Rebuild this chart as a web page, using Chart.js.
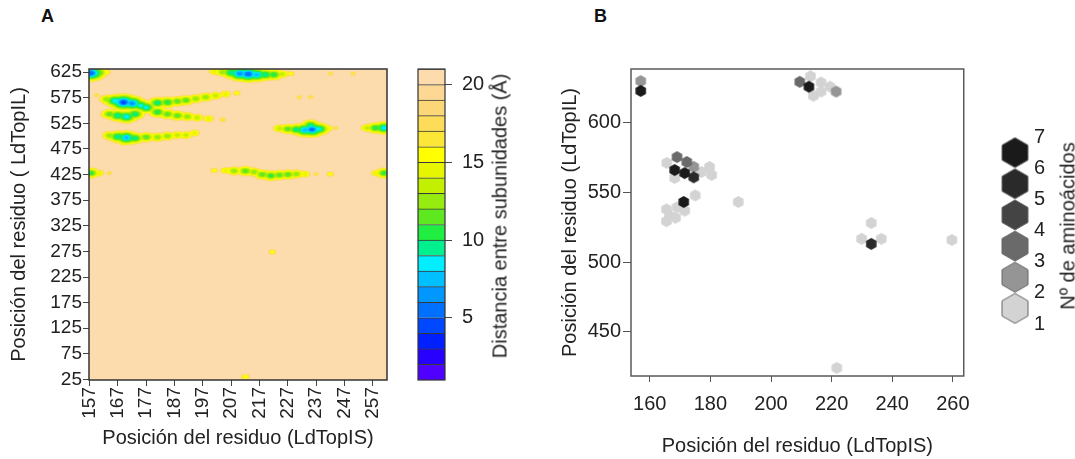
<!DOCTYPE html>
<html>
<head>
<meta charset="utf-8">
<script src="https://cdn.jsdelivr.net/npm/chart.js@4.4.0/dist/chart.umd.min.js"></script>
<style>
  body { margin: 0; background: #fff; width: 1075px; height: 459px; overflow: hidden; position: relative;
         font-family: "Liberation Sans", Arial, Helvetica, sans-serif; }
  .box { position: absolute; }
  .tag { position: absolute; font-weight: bold; font-size: 18px; color: #111; }
  .vt { position: absolute; font-size: 20px; color: #222; white-space: nowrap;
        transform: translate(-50%, -50%) rotate(-90deg); }
</style>
</head>
<body>
<div class="tag" style="left:41px;top:6px">A</div>
<div class="tag" style="left:594px;top:6px">B</div>

<div class="box" style="left:0;top:0;width:400px;height:459px"><canvas id="mapa"></canvas></div>
<div class="box" style="left:410px;top:0;width:80px;height:459px"><canvas id="barra"></canvas></div>
<div class="vt" style="left:500px;top:216px">Distancia entre subunidades (Å)</div>

<div class="box" style="left:540px;top:0;width:440px;height:459px"><canvas id="hexa"></canvas></div>
<div class="box" style="left:980px;top:100px;width:80px;height:240px"><canvas id="leyenda"></canvas></div>
<div class="vt" style="left:1068px;top:226px">Nº de aminoácidos</div>

<script>
// ---- Panel A: contactos (x, y, distancia mínima en Å) ----
const xTicksA = [157, 167, 177, 187, 197, 207, 217, 227, 237, 247, 257];
const yTicksA = [25, 75, 125, 175, 225, 275, 325, 375, 425, 475, 525, 575, 625];

const spotX = [157.5, 160.5, 163, 201, 204, 207, 210, 213, 216, 219, 222, 225, 228, 242, 250,
  159.5, 163, 166, 169, 172, 175, 164, 167, 170, 173, 177,
  181, 184.5, 188, 191, 194.5, 198, 201.5, 205, 209,
  181, 184.5, 188, 191.5, 195, 199, 204,
  164, 167, 170, 173, 169, 177, 181, 184.5, 188, 191, 194,
  231, 235, 224, 227, 230, 233, 235.5, 238, 235, 241, 244, 255, 258, 261,
  157.5, 160.5, 164, 201, 205, 208, 212, 215, 218, 221, 224, 227, 230, 233, 237, 242, 258, 261,
  212, 221.5];
const spotY = [623, 624, 625, 626, 625, 624, 622, 621, 620, 620, 620, 621, 622, 622, 622,
  580, 572, 569, 566, 564, 560, 543, 540, 538, 543, 556,
  565, 566, 568, 570, 573, 576, 579, 582, 584,
  547, 543, 540, 538, 536, 534, 532,
  501, 499, 497, 496, 488, 498, 498, 500, 502, 502, 506,
  576, 576, 515, 514, 513, 512, 513, 514, 521, 515, 516, 516, 516, 516,
  428, 428, 428, 433, 433, 432, 432, 430, 425, 423, 424, 425, 426, 426, 426, 426, 428, 428,
  30, 274];
const spotDist = [5, 11, 15, 14, 12, 9, 6, 5, 7, 9, 10, 13, 15.5, 16.5, 16.5,
  16.5, 12, 8, 4.5, 6, 8.5, 11, 9, 8, 9.5, 8.5,
  9.5, 10, 11, 11, 12, 12, 13, 14, 15.5,
  10, 11, 11, 12, 13, 14, 16,
  12, 9, 7, 9.5, 14.5, 11, 12, 12, 13, 13, 14,
  16.5, 16.5, 13, 11, 9.5, 7, 5.5, 8.5, 9.5, 14, 16.5, 13, 10, 8,
  10.5, 14.5, 16.5, 15.5, 14, 12, 11, 12, 11, 10.5, 11, 11, 12, 14, 16.5, 15.5, 14.5, 10.5,
  15, 15.5];

// niveles de la barra de color (Å)
const levelsA = [1, 2, 3, 4, 5, 6, 7, 8, 9, 10, 11, 12, 13, 14, 15, 16, 17, 18, 19, 20, 21];
const cbTicks = [5, 10, 15, 20];

// ---- Panel B: hexágonos (x, y, nº de aminoácidos) ----
const xTicksB = [160, 180, 200, 220, 240, 260];
const yTicksB = [450, 500, 550, 600];
const hexX = [157, 157,
  209.5, 212.5, 221.5, 213, 216.5, 219.5, 214, 216.5,
  165.6, 169, 172.2, 174.5, 168.2, 171.5, 174.5, 177.1, 179.7, 180.4, 168.2,
  175, 171.2, 165.5, 169, 171.5, 166.5, 168.5, 165.5, 189.2,
  233.1, 229.9, 233.1, 236.4, 259.7, 221.7];
const hexY = [630, 623,
  629.5, 626, 622.5, 633.5, 629, 626, 619.5, 622.5,
  571.3, 575.5, 572, 568.5, 566.2, 564, 561, 564.8, 568.4, 562.7, 560.5,
  548, 543.3, 538, 539.5, 537, 533.5, 532, 529.5, 543.3,
  528.2, 516.8, 513.2, 516.8, 516, 424.2];
const hexN = [2, 7,
  3, 7, 2, 1, 1, 1, 1, 1,
  1, 3, 3, 2, 7, 7, 5, 1, 1, 1, 1,
  1, 7, 1, 1, 1, 1, 1, 1, 1,
  1, 1, 5, 1, 1, 1];
const legendTicks = [1, 2, 3, 4, 5, 6, 7];

// ---- estilos ----
const bandColors = ['#5000ff', '#2800ff', '#0020ff', '#0048ff', '#0070ff', '#0098ff', '#00c0ff',
  '#00eeff', '#00f090', '#20ee40', '#5ee820', '#96ec10', '#c2f000', '#e6f500', '#ffff00',
  '#fce638', '#fcdc58', '#fcd778', '#fcd894', '#fcdcac'];
const greys = ['#d3d3d3', '#959595', '#6a6a6a', '#444444', '#2a2a2a', '#1a1a1a'];

Chart.defaults.font.family = '"Liberation Sans", Arial, Helvetica, sans-serif';
Chart.defaults.font.size = 20;
Chart.defaults.color = '#222';

const plotBox = {
  id: 'plotBox',
  beforeDatasetsDraw(chart, args, opts) {
    if (!opts.fill) return;
    const a = chart.chartArea, ctx = chart.ctx;
    ctx.save();
    ctx.fillStyle = opts.fill;
    ctx.fillRect(a.left, a.top, a.width, a.height);
    ctx.restore();
  },
  afterDatasetsDraw(chart, args, opts) {
    const a = chart.chartArea, ctx = chart.ctx;
    ctx.save();
    ctx.strokeStyle = opts.color || '#333';
    ctx.lineWidth = opts.width || 1.5;
    ctx.strokeRect(a.left, a.top, a.width, a.height);
    ctx.restore();
  }
};

function fixedTicks(list) {
  return scale => { scale.ticks = list.map(v => ({ value: v })); };
}

// elipse de contorno para el nivel L alrededor de un punto de distancia v
const ellCache = {};
function ellipse(L, v) {
  const key = L + '|' + v;
  if (ellCache[key]) return ellCache[key];
  const t = L - v, over = Math.max(0, L - 16);
  const rx = Math.max(0.8, 1.5 + 1.15 * t - 0.5 * over);
  const ry = Math.max(0.7, 1.2 + 0.6 * t - 0.25 * over);
  const c = document.createElement('canvas');
  c.width = Math.ceil(rx * 2) + 2;
  c.height = Math.ceil(ry * 2) + 2;
  const g = c.getContext('2d');
  g.fillStyle = bandColors[L - 2];
  g.beginPath();
  g.ellipse(c.width / 2, c.height / 2, rx, ry, 0, 0, Math.PI * 2);
  g.fill();
  ellCache[key] = c;
  return c;
}

function hexagon(w, h, fill, stroke) {
  const c = document.createElement('canvas');
  c.width = Math.ceil(w) + 2;
  c.height = Math.ceil(h) + 2;
  const g = c.getContext('2d');
  const cx = c.width / 2, cy = c.height / 2;
  g.beginPath();
  for (let k = 0; k < 6; k++) {
    const a = Math.PI / 2 + k * Math.PI / 3;
    g.lineTo(cx + (w / 2) / Math.cos(Math.PI / 6) * Math.cos(a), cy - (h / 2) * Math.sin(a));
  }
  g.closePath();
  g.fillStyle = fill;
  g.fill();
  if (stroke) { g.strokeStyle = stroke; g.lineWidth = 1; g.stroke(); }
  return c;
}

function greyFor(n) { return greys[Math.min(n, 6) - 1]; }

// ---- Panel A ----
const contourSets = [];
for (let L = 19; L >= 2; L--) {
  const pts = [];
  spotX.forEach((x, i) => { if (spotDist[i] < L) pts.push({ x: x, y: spotY[i], v: spotDist[i] }); });
  contourSets.push({
    data: pts,
    order: L,
    clip: 0,
    pointRadius: 12,
    pointStyle: c => (c.raw ? ellipse(L, c.raw.v) : 'circle')
  });
}

new Chart(document.getElementById('mapa'), {
  type: 'scatter',
  data: { datasets: contourSets },
  plugins: [plotBox],
  options: {
    responsive: true, maintainAspectRatio: false, animation: false, events: [],
    layout: { padding: { top: 69, right: 8, bottom: 0, left: 0 } },
    plugins: {
      legend: { display: false }, tooltip: { enabled: false },
      plotBox: { fill: bandColors[19], color: '#333', width: 1.5 }
    },
    scales: {
      x: {
        type: 'linear', min: 156.8, max: 262,
        afterBuildTicks: fixedTicks(xTicksA),
        afterFit: s => { s.height = 79; },
        ticks: { autoSkip: false, minRotation: 90, maxRotation: 90, padding: 1, font: { size: 19 } },
        grid: { drawOnChartArea: false, tickLength: 6, color: '#444' },
        border: { display: false },
        title: { display: true, text: 'Posición del residuo (LdTopIS)', padding: { top: 0, bottom: 9 } }
      },
      y: {
        type: 'linear', min: 24, max: 631,
        afterBuildTicks: fixedTicks(yTicksA),
        afterFit: s => { s.width = 89; },
        ticks: { autoSkip: false, padding: 1, font: { size: 19 } },
        grid: { drawOnChartArea: false, tickLength: 6, color: '#444' },
        border: { display: false },
        title: { display: true, text: 'Posición del residuo ( LdTopIL)', padding: { top: 7, bottom: 0 } }
      }
    }
  }
});

// ---- barra de color ----
const bandSets = bandColors.map((col, k) => ({
  data: [[levelsA[k], levelsA[k + 1]]],
  backgroundColor: col,
  borderColor: '#3a3a3a',
  borderWidth: { top: 1, bottom: 0, left: 0, right: 0 },
  borderSkipped: false,
  barPercentage: 1,
  categoryPercentage: 1,
  grouped: false
}));

new Chart(document.getElementById('barra'), {
  type: 'bar',
  data: { labels: [''], datasets: bandSets },
  plugins: [plotBox],
  options: {
    responsive: true, maintainAspectRatio: false, animation: false, events: [],
    layout: { padding: { top: 69, right: 0, bottom: 79, left: 8 } },
    plugins: { legend: { display: false }, tooltip: { enabled: false }, plotBox: { color: '#333', width: 1.2 } },
    scales: {
      x: { display: false },
      y: {
        position: 'right', min: levelsA[0], max: levelsA[levelsA.length - 1],
        afterBuildTicks: fixedTicks(cbTicks),
        afterFit: s => { s.width = 45; },
        ticks: { padding: 10 },
        grid: { drawOnChartArea: false, tickLength: 7, color: '#444' },
        border: { display: false }
      }
    }
  }
});

// ---- Panel B ----
const hexPts = hexX.map((x, i) => ({ x: x, y: hexY[i], n: hexN[i] })).sort((a, b) => a.n - b.n);
const hexCache = {};
function plotHex(n) {
  if (!hexCache[n]) hexCache[n] = hexagon(10.5, 12, greyFor(n));
  return hexCache[n];
}

new Chart(document.getElementById('hexa'), {
  type: 'scatter',
  data: { datasets: [{ data: hexPts, clip: 0, pointRadius: 6,
    pointStyle: c => (c.raw ? plotHex(c.raw.n) : 'circle') }] },
  plugins: [plotBox],
  options: {
    responsive: true, maintainAspectRatio: false, animation: false, events: [],
    layout: { padding: { top: 69, right: 15, bottom: 0, left: 0 } },
    plugins: { legend: { display: false }, tooltip: { enabled: false }, plotBox: { color: '#5a5a5a', width: 1.5 } },
    scales: {
      x: {
        type: 'linear', min: 153.8, max: 263.6,
        afterBuildTicks: fixedTicks(xTicksB),
        afterFit: s => { s.height = 83; },
        ticks: { padding: 10 },
        grid: { drawOnChartArea: false, tickLength: 6, color: '#555' },
        border: { display: false },
        title: { display: true, text: 'Posición del residuo (LdTopIS)', padding: { top: 0, bottom: 1 } }
      },
      y: {
        type: 'linear', min: 418.4, max: 638.7,
        afterBuildTicks: fixedTicks(yTicksB),
        afterFit: s => { s.width = 91; },
        ticks: { padding: 2 },
        grid: { drawOnChartArea: false, tickLength: 8, color: '#555' },
        border: { display: false },
        title: { display: true, text: 'Posición del residuo (LdTopIL)', padding: { top: 18, bottom: 0 } }
      }
    }
  }
});

// ---- leyenda de hexágonos ----
const legendPts = greys.map((g, k) => ({ x: 0.5, y: (legendTicks[k] + legendTicks[k + 1]) / 2, k: k }));
new Chart(document.getElementById('leyenda'), {
  type: 'scatter',
  data: { datasets: [{ data: legendPts, clip: false, pointRadius: 15,
    pointStyle: c => (c.raw ? hexagon(26, 30, greys[c.raw.k], '#666') : 'circle') }] },
  options: {
    responsive: true, maintainAspectRatio: false, animation: false, events: [],
    layout: { padding: { top: 37, right: 0, bottom: 13, left: 0 } },
    plugins: { legend: { display: false }, tooltip: { enabled: false } },
    scales: {
      x: { display: false, type: 'linear', min: 0, max: 1 },
      y: {
        position: 'right', min: legendTicks[0], max: legendTicks[legendTicks.length - 1],
        afterBuildTicks: fixedTicks(legendTicks),
        afterFit: s => { s.width = 26; },
        ticks: { padding: 0 },
        grid: { display: false, drawTicks: false },
        border: { display: false }
      }
    }
  }
});
</script>
</body>
</html>
